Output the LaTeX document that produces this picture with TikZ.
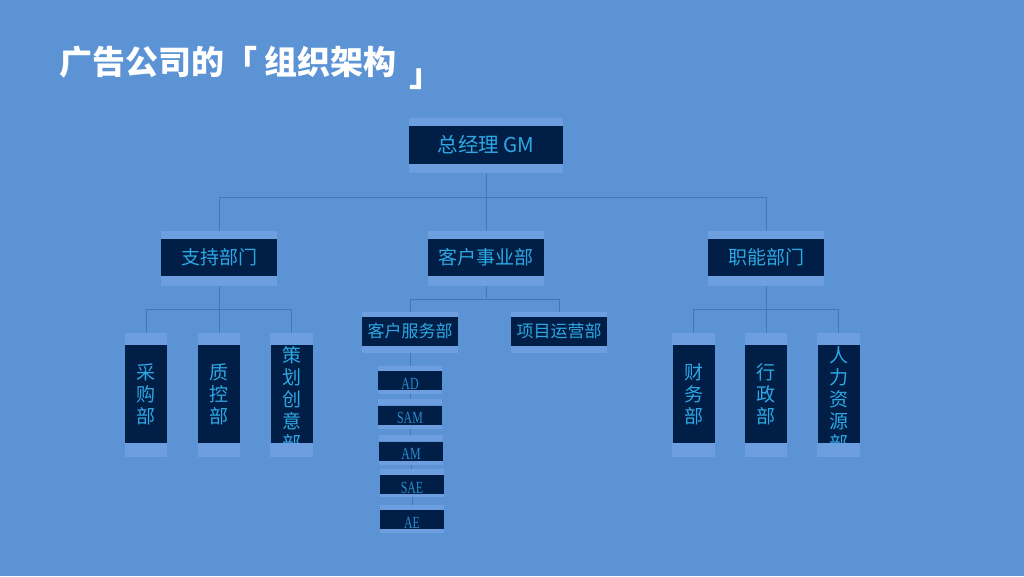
\documentclass[tikz,border=0pt]{standalone}
\usepackage{fontspec}
\setmainfont{Noto Sans CJK SC}
\newfontfamily\tagserif[FakeStretch=0.7]{Liberation Serif}

\definecolor{bgblue}{RGB}{91,147,213}
\definecolor{bandcol}{RGB}{108,158,224}
\definecolor{boxdark}{RGB}{1,30,70}
\definecolor{boxtext}{RGB}{45,168,228}
\definecolor{tagtext}{RGB}{40,140,205}
\definecolor{linecol}{RGB}{70,118,184}

\begin{document}
\begin{tikzpicture}[x=1pt, y=-1pt,
    conn/.style={draw=linecol, line width=0.8pt},
    band/.style={fill=bandcol},
    headbox/.style={fill=boxdark, text=boxtext, inner sep=0pt, minimum width=116pt, minimum height=37pt, font=\fontsize{19}{22}\selectfont},
    midbox/.style={fill=boxdark, text=boxtext, inner sep=0pt, minimum width=96pt, minimum height=29pt, font=\fontsize{17}{20}\selectfont},
    vbox/.style={fill=boxdark, inner sep=0pt, minimum width=42pt, minimum height=98pt},
    vtext/.style={text=boxtext, align=center, inner sep=0pt, font=\fontsize{19}{22}\selectfont},
    tagbox/.style={fill=boxdark, text=tagtext, inner sep=0pt, minimum width=64pt, minimum height=19pt, text height=17pt, text depth=0pt, font=\tagserif\fontsize{17}{17}\selectfont}]
	\fill[bgblue] (0,0) rectangle (1024,576);
	
	% title
	\node[anchor=west, inner sep=0pt, text=white, font=\bfseries\fontsize{33}{33}\selectfont] (title) at (59,68) {广告公司的「 组织架构\hspace{13pt}\raisebox{-12pt}{」}};
	
	% boxes
	\node[headbox, minimum width=154pt, minimum height=38pt, font=\fontsize{20.5}{22}\selectfont] (gm) at (486,145) {总经理 GM};
	\node[headbox] (supp) at (219,257.5) {支持部门};
	\node[headbox] (cust) at (486,257.5) {客户事业部};
	\node[headbox] (func) at (766,257.5) {职能部门};
	
	\node[vbox, label={[vtext]center:采\\购\\部}] (caigou) at (146,394) {};
	\node[vbox, label={[vtext]center:质\\控\\部}] (zhikong) at (219,394) {};
	\node[vbox, label={[vtext, yshift=-5pt]center:策\\划\\创\\意\\部}] (cehua) at (291.5,394) {};
	
	\node[midbox] (kefu) at (410,331.5) {客户服务部};
	\node[midbox] (xiangmu) at (559,331.5) {项目运营部};
	
	\node[tagbox] (ad) at (410,380.5) {AD};
	\node[tagbox] (sam) at (410,415) {SAM};
	\node[tagbox] (am) at (411,451) {AM};
	\node[tagbox] (sae) at (412,484.5) {SAE};
	\node[tagbox] (ae) at (412,519.5) {AE};
	
	\node[vbox, label={[vtext]center:财\\务\\部}] (caiwu) at (693.5,394) {};
	\node[vbox, label={[vtext]center:行\\政\\部}] (xingzheng) at (766,394) {};
	\node[vbox, label={[vtext, yshift=-5pt]center:人\\力\\资\\源\\部}] (renli) at (838.5,394) {};
	
	% connectors
	\coordinate (bus0) at (486,197);
	\coordinate (bus1) at (219,309);
	\coordinate (bus2) at (486,299);
	\coordinate (bus3) at (766,309);
	
	\draw[conn] (gm) -- (bus0);
	\draw[conn] (bus0) -| (supp);
	\draw[conn] (bus0) -- (cust);
	\draw[conn] (bus0) -| (func);
	
	\draw[conn] (supp) -- (bus1);
	\draw[conn] (bus1) -| (caigou);
	\draw[conn] (bus1) -- (zhikong);
	\draw[conn] (bus1) -| (cehua);
	
	\draw[conn] (cust) -- (bus2);
	\draw[conn] (bus2) -| (kefu);
	\draw[conn] (bus2) -| (xiangmu);
	\draw[conn] (kefu.south) -- (ad.north);
	\draw[conn] (ad.south) -- (sam.north);
	\draw[conn] (sam.south) -- (am.north);
	\draw[conn] (am.south) -- (sae.north);
	\draw[conn] (sae.south) -- (ae.north);
	
	\draw[conn] (func) -- (bus3);
	\draw[conn] (bus3) -| (caiwu);
	\draw[conn] (bus3) -- (xingzheng);
	\draw[conn] (bus3) -| (renli);
	
	% light bands above and below each box
	\foreach \n/\hi/\lo in {gm/8/9, supp/8/10, cust/8/10, func/8/10,
	    caigou/12/14, zhikong/12/14, cehua/12/14, caiwu/12/14, xingzheng/12/14, renli/12/14,
	    kefu/5/7, xiangmu/5/7, ad/5/4, sam/6/4, am/6/4, sae/6/3, ae/5/4}
	{
		\fill[band] (\n.north west) rectangle ([yshift=\hi pt]\n.north east);
		\fill[band] (\n.south west) rectangle ([yshift=-\lo pt]\n.south east);
	}
\end{tikzpicture}
\end{document}
